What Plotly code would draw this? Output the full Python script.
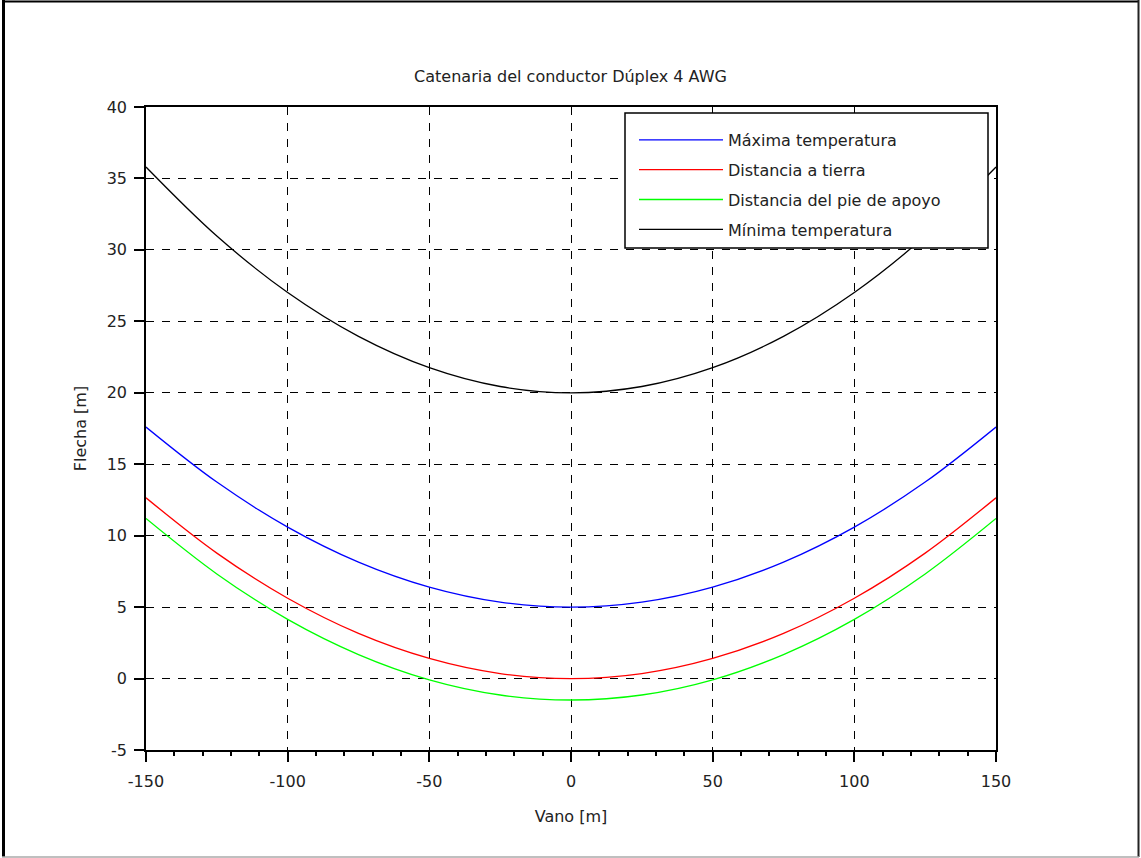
import plotly.graph_objects as go

# ---- data ----
vano = [-150, -125, -100, -75, -50, -25, 0, 25, 50, 75, 100, 125, 150]
maxima_temp = [17.6, 13.75, 10.6, 8.15, 6.4, 5.35, 5.0, 5.35, 6.4, 8.15, 10.6, 13.75, 17.6]
dist_tierra = [12.65, 8.78, 5.62, 3.16, 1.41, 0.35, 0.0, 0.35, 1.41, 3.16, 5.62, 8.78, 12.65]
dist_pie = [11.2, 7.32, 4.14, 1.68, -0.09, -1.15, -1.5, -1.15, -0.09, 1.68, 4.14, 7.32, 11.2]
minima_temp = [35.8, 30.97, 27.02, 23.95, 21.76, 20.44, 20.0, 20.44, 21.76, 23.95, 27.02, 30.97, 35.8]

series_names = ["Máxima temperatura", "Distancia a tierra",
                "Distancia del pie de apoyo", "Mínima temperatura"]
series_values = [maxima_temp, dist_tierra, dist_pie, minima_temp]
series_colors = ["#0000ff", "#ff0000", "#00ff00", "#000000"]

x_ticks = [-150, -100, -50, 0, 50, 100, 150]
x_ticklabels = ["-150", "-100", "-50", "0", "50", "100", "150"]
y_ticks = [-5, 0, 5, 10, 15, 20, 25, 30, 35, 40]
y_ticklabels = ["-5", "0", "5", "10", "15", "20", "25", "30", "35", "40"]

title_text = "Catenaria del conductor Dúplex 4 AWG"
x_title = "Vano [m]"
y_title = "Flecha [m]"

# ---- layout geometry ----
W, H = 1141, 858
L, R, T, B = 146, 145, 107, 108
PW, PH = W - L - R, H - T - B


def px(x):
    return (x - L) / PW


def py(y):
    return (H - B - y) / PH


FONT = "DejaVu Sans"
TXT = "#222222"

fig = go.Figure()
for i, (name, vals, col) in enumerate(zip(series_names, series_values, series_colors)):
    fig.add_trace(go.Scatter(
        x=vano, y=vals, mode="lines", name=name,
        line=dict(color=col, width=1.3, shape="spline", smoothing=1.0),
        legendgroup=f"g{i}",
    ))

axis_common = dict(
    showline=True, linecolor="black", linewidth=1.5, mirror=True,
    ticks="outside", ticklen=10, tickwidth=1.5, tickcolor="black",
    showgrid=True, gridcolor="black", gridwidth=1, griddash="8px,8px",
    zeroline=False,
    tickfont=dict(family=FONT, size=16, color=TXT),
)

fig.update_layout(
    width=W, height=H,
    margin=dict(l=L, r=R, t=T, b=B, autoexpand=False),
    paper_bgcolor="white", plot_bgcolor="white",
    font=dict(family=FONT, size=16, color=TXT),
    title=dict(text=title_text, x=0.5, xanchor="center", xref="container",
               y=1 - 76 / H, yanchor="middle", yref="container",
               font=dict(family=FONT, size=16, color=TXT)),
    xaxis=dict(range=[-150, 150], tickmode="array", tickvals=x_ticks,
               ticktext=x_ticklabels, ticklabelstandoff=6,
               minor=dict(ticks="outside", ticklen=4, dtick=10, tick0=-150,
                          tickcolor="black", tickwidth=1.5, showgrid=False),
               title=dict(text=x_title, standoff=21,
                          font=dict(family=FONT, size=16, color=TXT)),
               **axis_common),
    yaxis=dict(range=[-5, 40], tickmode="array", tickvals=y_ticks,
               ticktext=y_ticklabels, ticklabelstandoff=4,
               title=dict(text=y_title, standoff=16,
                          font=dict(family=FONT, size=16, color=TXT)),
               **axis_common),
    legend=dict(x=px(634), y=py(123), xanchor="left", yanchor="top",
                bgcolor="rgba(0,0,0,0)", borderwidth=0,
                itemwidth=84, tracegroupgap=6,
                font=dict(family=FONT, size=16, color=TXT)),
    showlegend=True,
)

shapes = [
    # legend frame (white box over the grid)
    dict(type="rect", xref="paper", yref="paper",
         x0=px(625), x1=px(988), y0=py(248), y1=py(113),
         line=dict(color="black", width=1.5), fillcolor="white", layer="above"),
    # outer figure frame
    dict(type="line", xref="paper", yref="paper", x0=px(3.5), x1=px(3.5),
         y0=py(0), y1=py(857), line=dict(color="black", width=3)),
    dict(type="line", xref="paper", yref="paper", x0=px(2), x1=px(1139),
         y0=py(1.5), y1=py(1.5), line=dict(color="black", width=2)),
    dict(type="line", xref="paper", yref="paper", x0=px(1138.5), x1=px(1138.5),
         y0=py(0), y1=py(857), line=dict(color="#222222", width=2)),
    dict(type="line", xref="paper", yref="paper", x0=px(2), x1=px(1139),
         y0=py(857), y1=py(857), line=dict(color="#aaaaaa", width=1.5)),
]
fig.update_layout(shapes=shapes)

fig.write_html("out.html")
